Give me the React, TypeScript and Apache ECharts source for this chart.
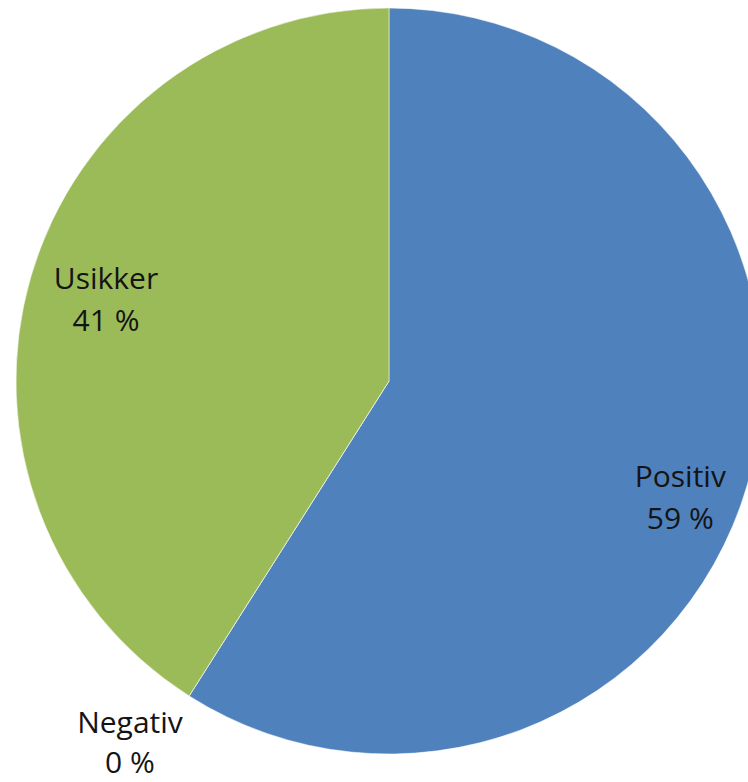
import React, { useEffect, useRef } from "react";
import * as echarts from "echarts";

const categories = ["Positiv", "Negativ", "Usikker"];
const values = [59, 0, 41];
const colors = ["#4F81BD", "#C0504D", "#9BBB59"];

const CX = 389;
const CY = 381;
const R = 373;
// label placement: radial factor and angle offset (degrees) relative to slice middle
const labelRadial = [0.84, 1.19, 0.79];
const labelAngleOffset = [5.4, 3.3, 0];
const labelLineHeights = [42, 40, 42];

export default function App() {
  const ref = useRef<HTMLDivElement>(null);
  useEffect(() => {
    if (!ref.current) return;
    const chart = echarts.init(ref.current, undefined, { renderer: "svg" });
    const total = values.reduce((a, b) => a + b, 0);
    const cum: number[] = [];
    let acc = 0;
    values.forEach((v) => {
      cum.push(acc);
      acc += v;
    });
    chart.setOption({
      animation: false,
      backgroundColor: "#ffffff",
      series: [
        {
          type: "pie",
          center: [CX, CY],
          radius: [0, R],
          startAngle: 90,
          clockwise: true,
          avoidLabelOverlap: false,
          data: categories.map((name, i) => ({
            name,
            value: values[i],
            itemStyle: { color: colors[i] },
            label: { lineHeight: labelLineHeights[i] },
          })),
          itemStyle: { borderColor: "rgba(255,255,255,0.5)", borderWidth: 1 },
          label: {
            show: true,
            position: "inside",
            formatter: (p: any) => `${p.name}\n${p.value} %`,
            fontFamily: "Open Sans",
            fontSize: 30,
            lineHeight: 42,
            color: "#141414",
            align: "center",
          },
          labelLine: { show: false },
          emphasis: { disabled: true },
          labelLayout: (params: any) => {
            const i = params.dataIndex;
            const midDeg =
              ((cum[i] + values[i] / 2) / total) * 360 + labelAngleOffset[i];
            const a = (midDeg * Math.PI) / 180;
            const d = labelRadial[i] * R;
            return {
              x: CX + d * Math.sin(a),
              y: CY - d * Math.cos(a),
              align: "center",
              verticalAlign: "middle",
            };
          },
        },
      ],
    });
    return () => chart.dispose();
  }, []);
  return (
    <div
      ref={ref}
      style={{ position: "fixed", left: 0, top: 0, width: 748, height: 782 }}
    />
  );
}
